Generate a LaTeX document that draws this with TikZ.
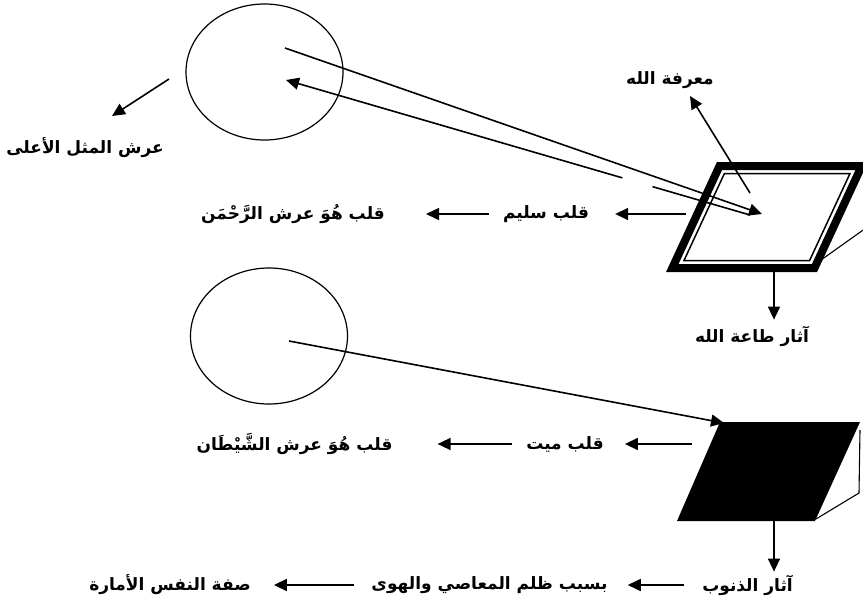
\documentclass[tikz,border=0pt]{standalone}
\usepackage{fontspec}
\newfontfamily\arabicfont[Script=Arabic]{DejaVu Sans}
\TeXXeTstate=1
\usetikzlibrary{arrows.meta,shapes.geometric,calc}

\begin{document}
\begin{tikzpicture}[
  x=1pt, y=-1pt,
  lbl/.style={inner sep=0pt, font=\arabicfont\bfseries\fontsize{17}{20}\selectfont},
  arr/.style={-{Triangle[length=13pt, width=12pt]}, line width=1.6pt},
  heart/.style={draw, ellipse, line width=1.2pt, minimum width=157pt, minimum height=136pt, inner sep=0pt},
  edge/.style={line width=1.1pt}
]
\useasboundingbox (0,0) rectangle (863,603);

% the two hearts
\node[heart] (upper) at (264.5,72) {};
\node[heart] (lower) at (269,336) {};

% sound heart: thick-thin frame
\draw[line width=8pt, line join=miter] (719.5,166) -- (861.7,166) -- (814.5,268) -- (672.3,268) -- cycle;
\draw[line width=1.5pt] (724.4,173.5) -- (850,173.5) -- (809.6,260.5) -- (684,260.5) -- cycle;
\draw[edge] (821,260) -- (866,228);

% dead heart
\fill (720,422) -- (860,422) -- (815,521) -- (677,521) -- cycle;
\draw[edge] (860,430) -- (859,493) -- (816,519);

% labels
\node[lbl] (mathal)  at (85,148)    {\beginR عرش المثل الأعلى\endR};
\node[lbl] (marifa)  at (670,80)    {\beginR معرفة الله\endR};
\node[lbl] (salim)   at (546,214)   {\beginR قلب سليم\endR};
\node[lbl] (rahman)  at (293,214)   {\beginR قلب هُوَ عرش الرَّحْمَن\endR};
\node[lbl] (taa)     at (752,336)   {\beginR آثار طاعة الله\endR};
\node[lbl] (mayyit)  at (565,444)   {\beginR قلب ميت\endR};
\node[lbl] (shaytan) at (294.5,444) {\beginR قلب هُوَ عرش الشَّيْطَان\endR};
\node[lbl] (dhunub)  at (747.5,585) {\beginR آثار الذنوب\endR};
\node[lbl] (sabab)   at (489.5,585) {\beginR بسبب ظلم المعاصي والهوى\endR};
\node[lbl] (sifa)    at (170,585)   {\beginR صفة النفس الأمارة\endR};

% connector ends
\coordinate (a1) at (285,48);
\coordinate (a2) at (762,214);
\coordinate (b1) at (750,215);
\coordinate (b2) at (286,80);
\coordinate (c1) at (289,341);
\coordinate (c2) at (724,423);
\coordinate (m1) at (169,79);
\coordinate (m2) at (112,116);
\coordinate (k1) at (750,193);
\coordinate (k2) at (690,96);
\coordinate (s1) at (686,214);
\coordinate (t1) at (692,444);
\coordinate (p1) at (774,268);
\coordinate (q1) at (774,521);

% connectors
\draw[arr] (a1) -- (a2);
\draw[arr] (b1) -- ($(b1)!0.21!(b2)$) ($(b1)!0.275!(b2)$) -- (b2);
\draw[arr] (c1) -- (c2);
\draw[arr] (m1) -- (m2);
\draw[arr] (k1) -- (k2);
\draw[arr, shorten >=26pt] (s1) -- (salim);
\draw[arr, shorten <=14pt, shorten >=41pt] (salim) -- (rahman);
\draw[arr, shorten >=6pt] (p1) -- (p1 |- taa.north);
\draw[arr, shorten >=21pt] (t1) -- (mayyit);
\draw[arr, shorten <=14pt, shorten >=45pt] (mayyit) -- (shaytan);
\draw[arr, shorten >=3pt] (q1) -- (q1 |- dhunub.north);
\draw[arr, shorten <=18pt, shorten >=20pt] (dhunub) -- (sabab);
\draw[arr, shorten <=17pt, shorten >=23pt] (sabab) -- (sifa);
\end{tikzpicture}
\end{document}
